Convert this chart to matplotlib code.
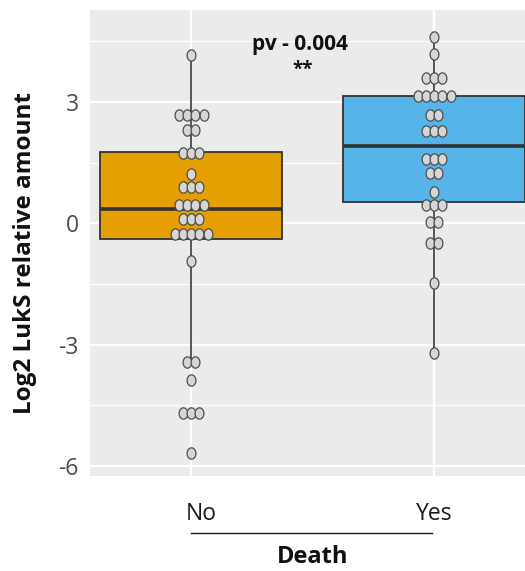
import numpy as np
import matplotlib
matplotlib.use("Agg")
import matplotlib.pyplot as plt
from matplotlib.path import Path
import matplotlib.transforms as mtransforms

# ---------------- data ----------------
categories = ["No", "Yes"]
no_values = [4.16,
             2.68, 2.68, 2.68, 2.68,
             2.31, 2.31,
             1.74, 1.74, 1.74,
             1.22,
             0.90, 0.90, 0.90,
             0.46, 0.46, 0.46, 0.46,
             0.11, 0.11, 0.11,
             -0.26, -0.26, -0.26, -0.26, -0.26,
             -0.93,
             -3.43, -3.43,
             -3.88,
             -4.69, -4.69, -4.69,
             -5.68]
yes_values = [4.61,
              4.19,
              3.59, 3.59, 3.59,
              3.15, 3.15, 3.15, 3.15, 3.15,
              2.68, 2.68,
              2.28, 2.28, 2.28,
              1.59, 1.59, 1.59,
              1.24, 1.24,
              0.77,
              0.45, 0.45, 0.45,
              0.03, 0.03,
              -0.49, -0.49,
              -1.47,
              -3.20]
box_q1 = [-0.40, 0.53]
box_med = [0.34, 1.91]
box_q3 = [1.76, 3.15]
whisker_lo = [-3.44, -3.20]
whisker_hi = [4.16, 4.61]
box_colors = ["#E69F00", "#56B4E9"]
yticks_major = [-6, -3, 0, 3]
yticks_minor = [-4.5, -1.5, 1.5, 4.5]
pv_text = "pv - 0.004"
sig_text = "**"
xlabel = "Death"
ylabel = "Log2 LukS relative amount"

# ---------------- figure ----------------
plt.rcParams['font.family'] = ['Open Sans', 'DejaVu Sans']
plt.rcParams['axes.unicode_minus'] = False
fig = plt.figure(figsize=(5.25, 5.71), dpi=100)
ax = fig.add_axes([90/525, 95/571, 490/525, 466/571])
ax.set_facecolor("#EBEBEB")
for s in ax.spines.values():
    s.set_visible(False)

ax.set_xlim(0.584, 2.6)
ax.set_ylim(-6.25, 5.27)

ax.set_yticks(yticks_major)
ax.set_yticks(yticks_minor, minor=True)
ax.set_xticks([1, 2])
ax.set_xticklabels(categories)
ax.grid(True, which="major", color="white", linewidth=1.6, zorder=0)
ax.grid(True, which="minor", axis="y", color="white", linewidth=0.8, zorder=0)
ax.set_axisbelow(True)
ax.tick_params(axis="both", which="both", length=0)
ax.tick_params(axis="y", labelsize=16.5, labelcolor="#4D4D4D", pad=8)
ax.tick_params(axis="x", labelsize=16.5, labelcolor="#1A1A1A", pad=19)
lbl = ax.get_xticklabels()[0]
lbl.set_transform(lbl.get_transform() + mtransforms.ScaledTranslation(10/100, 0, fig.dpi_scale_trans))

# boxes
stats = []
for i, c in enumerate(categories):
    stats.append(dict(label=c, q1=box_q1[i], med=box_med[i], q3=box_q3[i],
                      whislo=whisker_lo[i], whishi=whisker_hi[i], fliers=[]))
bp = ax.bxp(stats, positions=[1, 2], widths=0.75, patch_artist=True,
            showfliers=False, showcaps=False,
            boxprops=dict(edgecolor="#333333", linewidth=1.3),
            medianprops=dict(color="#333333", linewidth=2.6),
            whiskerprops=dict(color="#555555", linewidth=1.4),
            manage_ticks=False, zorder=2)
for patch, col in zip(bp["boxes"], box_colors):
    patch.set_facecolor(col)

# ellipse marker for dots
t = np.linspace(0, 2*np.pi, 60)
ell = Path(np.column_stack([0.78*np.cos(t), np.sin(t)]), closed=True)
dx = 0.034
for pos, vals in zip([1, 2], [no_values, yes_values]):
    vals = np.array(vals)
    xs, ys = [], []
    for v in dict.fromkeys(vals.tolist()):
        n = int(np.sum(vals == v))
        for k in range(n):
            xs.append(pos + (k - (n - 1) / 2) * dx)
            ys.append(v)
    ax.scatter(xs, ys, marker=ell, s=66, facecolor="#D6D6D6",
               edgecolor="#4D4D4D", linewidths=0.9, zorder=4)

# annotation
ax.text(1.45, 4.41, pv_text, ha="center", va="center", fontsize=15,
        fontweight="bold", color="#111111", zorder=5)
ax.text(1.46, 3.78, sig_text, ha="center", va="center", fontsize=13.5,
        fontweight="bold", color="#111111", zorder=5)

# line under x labels and axis title
trans = mtransforms.blended_transform_factory(ax.transData, ax.transAxes)
ax.plot([1.0, 1.99], [-0.122, -0.122], transform=trans, color="#1A1A1A",
        linewidth=1.0, clip_on=False)
ax.text(1.5, -0.186, xlabel, transform=trans, ha="center", va="baseline",
        fontsize=17, fontweight="bold", color="#111111")

fig.text(25/525, 1 - 253/571, ylabel, rotation=90, ha="center", va="center",
         fontsize=17.5, fontweight="bold", color="#111111")

fig.savefig("out.png", dpi=100)
